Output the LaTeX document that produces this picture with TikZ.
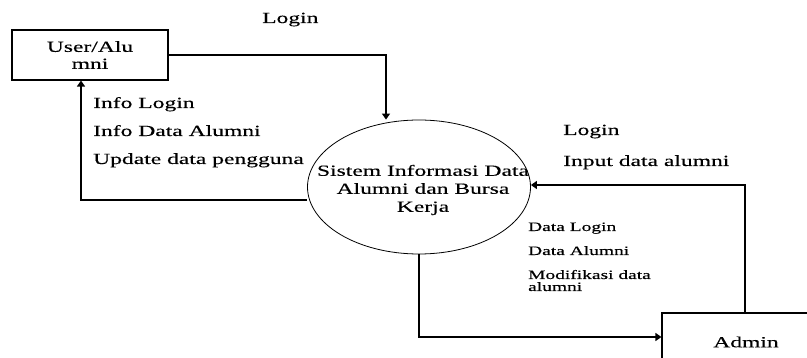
\documentclass[tikz,border=0pt]{standalone}
\usepackage{fontspec}
\setmainfont{Liberation Serif}[FakeStretch=1.52, FakeBold=0.3]
\usetikzlibrary{arrows.meta,shapes.geometric}
\tikzset{
  entity/.style={draw, line width=1.1pt, rectangle, inner sep=0pt},
  process/.style={draw, line width=0.8pt, ellipse, inner sep=0pt,
    minimum width=223pt, minimum height=134pt},
  flow/.style={line width=1.3pt, -{Triangle[length=6pt,width=8pt]}},
  biglabel/.style={anchor=base west, inner sep=0pt, font=\fontsize{15.5}{18}\selectfont},
  smalllabel/.style={anchor=base west, inner sep=0pt, font=\fontsize{12.8}{13}\selectfont},
}
\begin{document}
\begin{tikzpicture}[x=1pt, y=-1pt]
  \useasboundingbox (0,0) rectangle (807,358);
  \clip (0,0) rectangle (807,358);

  % external entities and the process
  \node[entity, minimum width=156pt, minimum height=50pt, align=center,
        font=\fontsize{15.5}{17}\selectfont] (user) at (90,55) {User/Alu\\mni};
  \node[entity, minimum width=168pt, minimum height=58pt,
        font=\fontsize{15.5}{18}\selectfont] (admin) at (746,342) {Admin};
  \node[process] (proc) at (419,187) {};
  \node[align=center, inner sep=0pt, font=\fontsize{15.5}{18}\selectfont]
    (proctext) at (423,190) {Sistem Informasi Data\\Alumni dan Bursa\\Kerja};

  % data flows
  \draw[flow] (user.east) -| ([xshift=-33pt]proc.north);
  \draw[flow] ([yshift=-13pt]proc.west) -| ([xshift=-9pt]user.south);
  \draw[flow] ([xshift=-1pt]admin.north) |- ([yshift=2pt]proc.east);
  \draw[flow] (proc.south) |- ([yshift=5pt]admin.west);

  % flow labels
  \node[biglabel] (l1) at (262,23) {Login};
  \node[biglabel] (l2) at (93,108) {Info Login};
  \node[biglabel] (l3) at (93,136) {Info Data Alumni};
  \node[biglabel] (l4) at (93,164) {Update data pengguna};
  \node[biglabel] (l5) at (563,135) {Login};
  \node[biglabel] (l6) at (563,166) {Input data alumni};
  \node[smalllabel] (l7) at (528,231) {Data Login};
  \node[smalllabel] (l8) at (528,255) {Data Alumni};
  \node[smalllabel] (l9) at (528,279) {Modifikasi data};
  \node[smalllabel] (l10) at (528,291) {alumni};
\end{tikzpicture}
\end{document}
